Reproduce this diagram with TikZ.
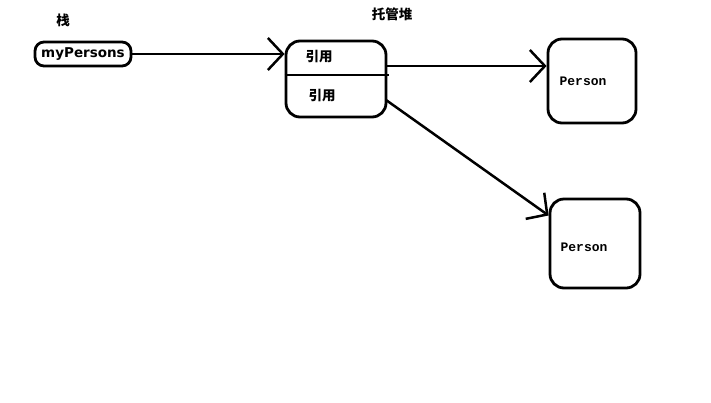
\documentclass[tikz,border=0pt]{standalone}
\usepackage{fontspec}
\newfontfamily\cjk{Noto Sans CJK SC}
\newfontfamily\labelfont{DejaVu Sans}
\newfontfamily\monofont{Liberation Mono}
\usetikzlibrary{arrows.meta}

\begin{document}
\begin{tikzpicture}[
  x=1pt, y=-1pt,
  every node/.style={inner sep=0pt},
  box/.style={draw, line width=2.8pt, rounded corners=#1},
  box/.default=14pt,
  ptr/.style={line width=2.5pt, -{Straight Barb[length=15pt,width=32pt,line width=2.5pt]}},
  cjklabel/.style={font=\cjk\bfseries\fontsize{13.5}{13.5}\selectfont},
  objlabel/.style={font=\monofont\bfseries\fontsize{13}{13}\selectfont}
]
\useasboundingbox (0,0) rectangle (711,402);

% stack side
\node[cjklabel] (stacktitle) at (63,20) {栈};
\node[box=9pt, minimum width=96pt, minimum height=24pt,
      font=\labelfont\bfseries\fontsize{13.5}{13.5}\selectfont] (stack) at (83,54) {myPersons};

% managed heap with two references
\node[cjklabel] (heaptitle) at (392,14) {托管堆};
\node[box, minimum width=100pt, minimum height=76pt] (heap) at (336,79) {};
\draw[line width=2.8pt] ([yshift=4pt]heap.west) -- ([yshift=4pt,xshift=2pt]heap.east);
\node[cjklabel] (ref1) at (319,57) {引用};
\node[cjklabel] (ref2) at (322,96) {引用};

% objects
\node[box, minimum width=88pt, minimum height=84pt] (person1) at (592,81) {};
\node[objlabel] (name1) at (583,81) {Person};
\node[box, minimum width=90pt, minimum height=89pt] (person2) at (595,243.5) {};
\node[objlabel] (name2) at (584,247) {Person};

\coordinate (out1) at (386,66);
\coordinate (out2) at (386,100);

\draw[ptr] (stack.east) -- (heap.west |- stack.east);
\draw[ptr] (out1) -- (person1.west |- out1);
\draw[ptr] (out2) -- ([yshift=28pt]person2.west);

\end{tikzpicture}
\end{document}
